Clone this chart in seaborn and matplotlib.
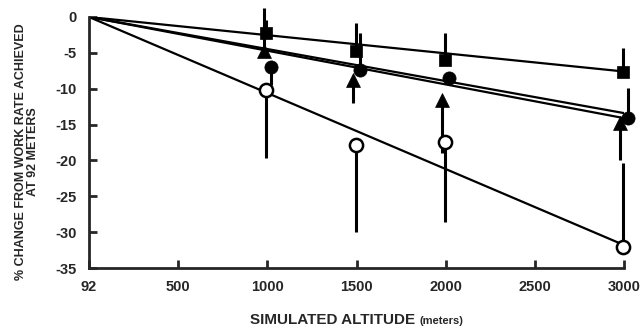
import matplotlib
matplotlib.use('Agg')
import matplotlib.pyplot as plt
import numpy as np
import pandas as pd
import seaborn as sns

# simulated altitudes (m); 92 m is the reference level drawn at the origin
altitudes = [92, 1000, 1500, 2000, 3000]
x_ticks = [0, 500, 1000, 1500, 2000, 2500, 3000]
x_tick_labels = ['92', '500', '1000', '1500', '2000', '2500', '3000']
y_ticks = [0, -5, -10, -15, -20, -25, -30, -35]

groups = ['square', 'circle', 'triangle', 'open']

# mean % change from work rate at 92 m
square_mean = [0, -2.2, -4.8, -6.0, -7.7]
circle_mean = [0, -7.0, -7.4, -8.5, -14.1]
triangle_mean = [0, -4.8, -8.8, -11.6, -14.8]
open_mean = [0, -10.2, -17.9, -17.4, -32.1]

# where the (one-sided) SD bar ends; nan = no bar drawn
square_err = [np.nan, -0.4, -0.8, -2.2, -4.3]
circle_err = [np.nan, -9.5, -2.3, np.nan, -9.9]
triangle_err = [np.nan, 1.2, -12.0, -19.0, -20.0]
open_err = [np.nan, -19.7, -30.0, -28.6, -20.4]

# regression line value at 3000 m (all lines pass through 0 at 92 m)
fit_at_3000 = [-7.6, -13.4, -14.1, -31.8]

# ---- styling ----
offsets = {'square': -5, 'circle': 20, 'triangle': -20, 'open': -5}
markers = {'square': 's', 'circle': 'o', 'triangle': '^', 'open': 'o'}
sizes = {'square': 8.5, 'circle': 9.5, 'triangle': 10, 'open': 9.5}


def main():
	sns.set_style('ticks')
	plt.rcParams['font.family'] = ['Liberation Sans', 'DejaVu Sans']

	fig = plt.figure(figsize=(6.44, 3.31), dpi=100)
	ax = fig.add_axes([89 / 644, 1 - 268 / 331, 535 / 644, 251 / 331])

	means = dict(zip(groups, [square_mean, circle_mean, triangle_mean, open_mean]))
	errs = dict(zip(groups, [square_err, circle_err, triangle_err, open_err]))

	x_pos = [0 if a == 92 else a for a in altitudes]

	# regression lines
	fit = pd.DataFrame({
		'x': [0, 3000] * len(groups),
		'y': sum(([0, f] for f in fit_at_3000), []),
		'g': sum(([g, g] for g in groups), []),
	})
	sns.lineplot(data=fit, x='x', y='y', units='g', estimator=None,
		color='black', lw=1.6, ax=ax, legend=False)

	for g in groups:
		xs = [x + offsets[g] if x > 0 else x for x in x_pos]
		# SD bars
		for x, m, e in zip(xs[1:], means[g][1:], errs[g][1:]):
			if not np.isnan(e):
				ax.plot([x, x], [m, e], color='black', lw=2.2,
					solid_capstyle='butt', clip_on=False, zorder=2)
		df = pd.DataFrame({'x': xs[1:], 'y': means[g][1:]})
		face = 'white' if g == 'open' else 'black'
		sns.scatterplot(data=df, x='x', y='y', ax=ax, marker=markers[g],
			s=sizes[g] ** 2, color=face, edgecolor='black',
			linewidth=1.8 if g == 'open' else 0.5, zorder=3, clip_on=False)

	ax.set_xlim(0, 3000)
	ax.set_ylim(-35, 0)
	ax.set_xticks(x_ticks)
	ax.set_xticklabels(x_tick_labels)
	ax.set_yticks(y_ticks)
	ax.set_yticklabels([str(t) for t in y_ticks])
	ax.tick_params(direction='in', length=6, width=2, labelsize=10.5)
	ax.tick_params(axis='x', pad=8.5)
	ax.tick_params(axis='y', pad=9)
	for lbl in ax.get_xticklabels() + ax.get_yticklabels():
		lbl.set_fontweight('bold')
	sns.despine(ax=ax)
	for s in ['left', 'bottom']:
		ax.spines[s].set_linewidth(2)
	ax.set_xlabel('')
	ax.set_ylabel('')

	fig.text(27 / 644, 1 - 152 / 331,
		'% CHANGE FROM WORK RATE ACHIEVED\nAT 92 METERS',
		fontsize=9, fontweight='bold', rotation=90, linespacing=0.95,
		ha='center', va='center', multialignment='center')

	fig.text(415 / 644, 1 - 320 / 331, 'SIMULATED ALTITUDE', fontsize=11,
		fontweight='bold', ha='right', va='center')
	fig.text(420 / 644, 1 - 321 / 331, '(meters)', fontsize=8,
		fontweight='bold', ha='left', va='center')

	fig.savefig('out.png', dpi=100)


if __name__ == '__main__':
	main()
